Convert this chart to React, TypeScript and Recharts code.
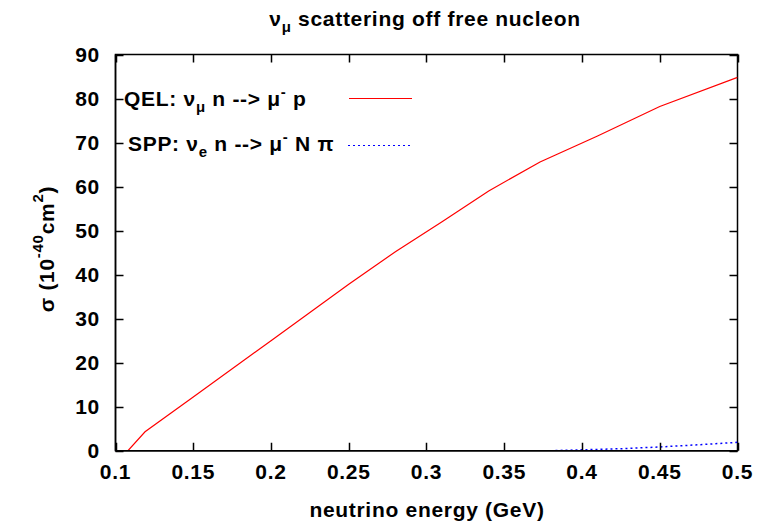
import React from "react";
import { Legend, Line, LineChart, ReferenceArea, XAxis, YAxis } from "recharts";

// QEL: nu_mu n --> mu- p
const qelEnergy = [0.1, 0.108, 0.119, 0.15, 0.2, 0.25, 0.28, 0.31, 0.34, 0.373, 0.41, 0.45, 0.5];
const qelSigma = [0, 0, 4.3, 12.2, 25, 37.8, 45.2, 52.0, 59.0, 65.6, 71.5, 78.2, 84.8];

// SPP: nu_e n --> mu- N pi
const sppEnergy = [0.1, 0.38, 0.4, 0.425, 0.45, 0.475, 0.5];
const sppSigma = [0, 0, 0.2, 0.45, 0.85, 1.35, 1.9];

const xTicks = [0.1, 0.15, 0.2, 0.25, 0.3, 0.35, 0.4, 0.45, 0.5];
const yTicks = [0, 10, 20, 30, 40, 50, 60, 70, 80, 90];

const qel = qelEnergy.map((x, i) => ({ x, y: qelSigma[i] }));
const spp = sppEnergy.map((x, i) => ({ x, y: sppSigma[i] }));

const X0 = 0.1, X1 = 0.5, Y0 = 0, Y1 = 90;
const W = 772, H = 522;
const M = { top: 54.5, right: 34.5, bottom: 0, left: 0 };
const Y_AXIS_W = 115.5;
const X_AXIS_H = 71.3;
// plot box, for the inward tick marks
const PL = M.left + Y_AXIS_W, PR = W - M.right, PT = M.top, PB = H - M.bottom - X_AXIS_H;
const TICK = 8;

const FONT = "'Liberation Sans', Arial, sans-serif";
const txt = { fill: "#000", fontSize: 21, fontWeight: 700, fontFamily: FONT, letterSpacing: 0.7 } as const;

function BottomTick({ x, y, payload }: any) {
  return (
    <text x={x} y={y + 28.5} textAnchor="middle" {...txt}>
      {String(+Number(payload.value).toFixed(2))}
    </text>
  );
}
function LeftTick({ x, y, payload }: any) {
  return (
    <text x={x - 15.5} y={y} dy="0.36em" textAnchor="end" {...txt}>
      {payload.value}
    </text>
  );
}

function YLabel() {
  const cx = 46;
  const cy = 249;
  return (
    <text x={cx} y={cy} transform={`rotate(-90 ${cx} ${cy})`} textAnchor="middle" dominantBaseline="central" {...txt}>
      <tspan>σ (10</tspan>
      <tspan fontSize={15} dy={-9}>-40</tspan>
      <tspan dy={9}>cm</tspan>
      <tspan fontSize={15} dy={-9}>2</tspan>
      <tspan dy={9}>)</tspan>
    </text>
  );
}

function XLabel() {
  return (
    <text x={427} y={517} textAnchor="middle" {...txt}>
      neutrino energy (GeV)
    </text>
  );
}

function KeyBox() {
  const px = (v: number) => Math.round(PL + ((v - X0) / (X1 - X0)) * (PR - PL)) + 0.5;
  const py = (v: number) => Math.round(PB - ((v - Y0) / (Y1 - Y0)) * (PB - PT)) + 0.5;
  let d = "";
  xTicks.forEach((t) => {
    d += `M${px(t)},${PB}V${PB - TICK}M${px(t)},${PT}V${PT + TICK}`;
  });
  yTicks.forEach((t) => {
    d += `M${PL},${py(t)}H${PL + TICK}M${PR},${py(t)}H${PR - TICK}`;
  });
  return (
    <svg width={W} height={H} style={{ position: "absolute", left: 0, top: 0, overflow: "visible" }}>
      {/* gnuplot-style inward ticks on all four sides */}
      <path d={d} stroke="#000000" strokeWidth={1.5} fill="none" />
      <text x={425} y={26} textAnchor="middle" {...txt}>
        <tspan>ν</tspan>
        <tspan fontSize={15} dy={6}>μ</tspan>
        <tspan dy={-6}> scattering off free nucleon</tspan>
      </text>
      <text x={124} y={106} {...txt}>
        <tspan>QEL: ν</tspan>
        <tspan fontSize={15} dy={6}>μ</tspan>
        <tspan dy={-6}> n --&gt; μ</tspan>
        <tspan fontSize={15} dy={-9}>-</tspan>
        <tspan dy={9}> p</tspan>
      </text>
      <line x1={349} x2={412} y1={98.5} y2={98.5} stroke="#ff0000" strokeWidth={1.2} />
      <text x={128} y={151} {...txt}>
        <tspan>SPP: ν</tspan>
        <tspan fontSize={15} dy={6}>e</tspan>
        <tspan dy={-6}> n --&gt; μ</tspan>
        <tspan fontSize={15} dy={-9}>-</tspan>
        <tspan dy={9}> N π</tspan>
      </text>
      <line x1={348} x2={410} y1={145.5} y2={145.5} stroke="#0000ff" strokeWidth={1.2} strokeDasharray="2 3" />
    </svg>
  );
}

export default function App() {
  return (
    <div style={{ position: "absolute", left: 0, top: 0, width: W, height: H, background: "#fff" }}>
      <LineChart width={W} height={H} margin={M}>
        <XAxis
          dataKey="x"
          type="number"
          domain={[X0, X1]}
          ticks={xTicks}
          allowDataOverflow
          tick={<BottomTick />}
          tickLine={false}
          tickSize={0}
          tickMargin={0}
          height={X_AXIS_H}
          stroke="#000"
          strokeWidth={1.5}
          label={<XLabel />}
        />
        <YAxis
          type="number"
          domain={[Y0, Y1]}
          ticks={yTicks}
          allowDataOverflow
          tick={<LeftTick />}
          tickLine={false}
          tickSize={0}
          tickMargin={0}
          width={Y_AXIS_W}
          stroke="#000"
          strokeWidth={1.5}
          label={<YLabel />}
        />
        <ReferenceArea x1={X0} x2={X1} y1={Y0} y2={Y1} fill="none" stroke="#000" strokeWidth={1.5} fillOpacity={0} />
        <Legend
          content={() => <KeyBox />}
          wrapperStyle={{ position: "absolute", left: 0, top: 0, width: 0, height: 0, overflow: "visible" }}
        />
        <Line
          data={qel}
          dataKey="y"
          stroke="#ff0000"
          strokeWidth={1.2}
          dot={false}
          isAnimationActive={false}
          legendType="none"
        />
        <Line
          data={spp}
          dataKey="y"
          stroke="#0000ff"
          strokeWidth={1.5}
          strokeDasharray="2 3"
          dot={false}
          isAnimationActive={false}
          legendType="none"
        />
      </LineChart>
    </div>
  );
}
